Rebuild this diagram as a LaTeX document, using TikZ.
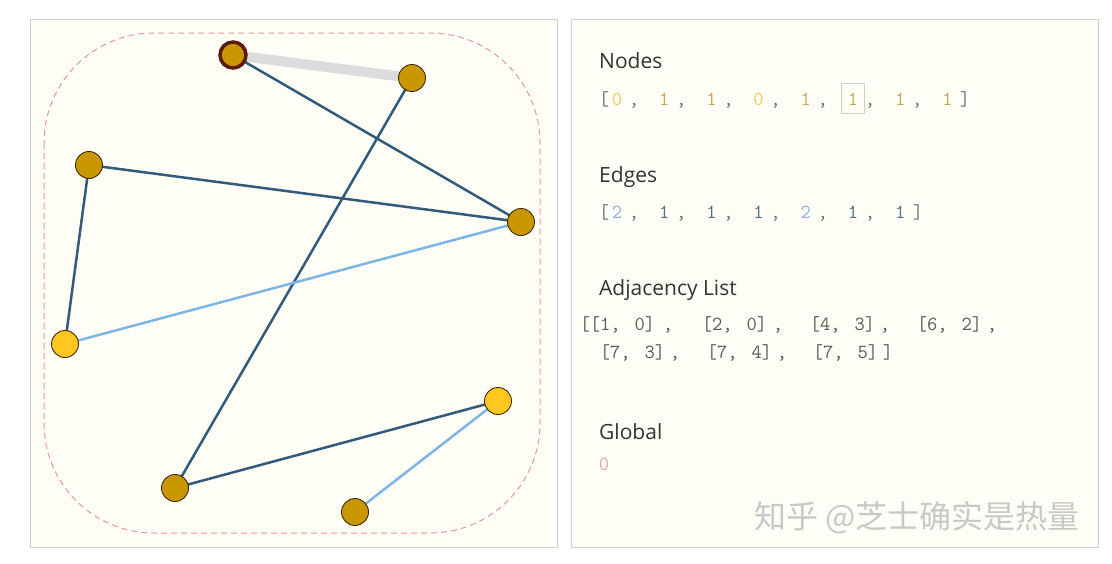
\documentclass[tikz,border=0pt]{standalone}
\usepackage{fontspec}
\setmainfont{Open Sans}
\newfontfamily\cjk{Noto Sans CJK SC}
\usepackage{xcolor}
\definecolor{panelbg}{HTML}{FFFEF6}
\definecolor{frame}{HTML}{CFCFCF}
\definecolor{ring}{HTML}{E8979C}
\definecolor{gold}{HTML}{C99700}
\definecolor{amber}{HTML}{FFC720}
\definecolor{rim}{HTML}{3F2A05}
\definecolor{hot}{HTML}{5A1A0C}
\definecolor{deep}{HTML}{345A7B}
\definecolor{sky}{HTML}{7DB6E5}
\definecolor{hilite}{HTML}{DCDCDC}
\definecolor{ink}{HTML}{333333}
\definecolor{brk}{HTML}{6E6E6E}
\definecolor{vone}{HTML}{C9A64F}
\definecolor{vzero}{HTML}{EDCB5A}
\definecolor{wone}{HTML}{4F6B86}
\definecolor{wtwo}{HTML}{8DB1DC}
\definecolor{adj}{HTML}{5A5A5A}
\definecolor{glob}{HTML}{E3A1A6}
\definecolor{wmark}{HTML}{C8C8C8}
\usetikzlibrary{backgrounds}
\newcommand\adjpair[2]{[#1,\hspace{14pt}#2]}

\begin{document}
\begin{tikzpicture}[x=1pt,y=-1pt,
  pane/.style={draw=frame,fill=panelbg,line width=1pt},
  vert/.style={circle,draw=rim,fill=gold,line width=0.9pt,minimum size=27pt,inner sep=0pt},
  vertlo/.style={vert,fill=amber},
  vertcur/.style={vert,draw=hot,line width=3.5pt,minimum size=26pt},
  hard/.style={deep,line width=2.5pt},
  soft/.style={sky,line width=2.5pt},
  head/.style={anchor=base west,inner sep=0pt,text=ink,font=\fontsize{21}{24}\selectfont},
  cell/.style={anchor=base,inner sep=0pt,font=\ttfamily\fontsize{20}{22}\selectfont}]
  \useasboundingbox (0,0) rectangle (1112,563);

  % graph
  \foreach \n/\p/\s in {0/{498,401}/vertlo, 1/{355,512}/vert, 2/{175,488}/vert, 3/{65,344}/vertlo,
                        4/{89,165}/vert, 5/{233,55}/vertcur, 6/{412,78}/vert, 7/{521,222}/vert}
    \node[\s] (v\n) at (\p) {};

  % state
  \node[head] (tnodes) at (599,68) {Nodes};
  \node[cell,text=brk] (nl) at (604,105) {[};
  \foreach \v/\c [count=\i from 0] in {0/vzero,1/vone,1/vone,0/vzero,1/vone,1/vone,1/vone,1/vone}
    \node[cell,text=\c] (nv\i) at ({617+47.2*\i},105) {\v};
  \foreach \i in {0,...,6}
    \node[cell,text=brk] (nc\i) at ({634+47.2*\i},105) {,};
  \node[cell,text=brk] (nr) at (965,105) {]};
  \node[draw=frame,line width=1.3pt,minimum width=23pt,minimum height=30pt,inner sep=0pt] (cur) at (nv5.center) {};

  \node[head] (tedges) at (599,182) {Edges};
  \node[cell,text=brk] (el) at (604,218) {[};
  \foreach \v/\c [count=\i from 0] in {2/wtwo,1/wone,1/wone,1/wone,2/wtwo,1/wone,1/wone}
    \node[cell,text=\c] (ev\i) at ({617+47.2*\i},218) {\v};
  \foreach \i in {0,...,5}
    \node[cell,text=brk] (ec\i) at ({634+47.2*\i},218) {,};
  \node[cell,text=brk] (er) at (918,218) {]};

  \node[head] (tadj) at (599,295) {Adjacency List};
  \node[cell,text=adj] (al) at (585,330) {[};
  \foreach \a/\b/\x/\y [count=\k] in {1/0/622.5/330, 2/0/734.5/330, 4/3/842.5/330, 6/2/949.5/330,
                                      7/3/632.5/358, 7/4/739.5/358, 7/5/845.5/358}
    \node[cell,text=adj] (ap\k) at (\x,\y) {\adjpair{\a}{\b}};
  \foreach \x/\y [count=\k] in {668/330,778/330,885/330,992/330,675/358,782/358}
    \node[cell,text=adj] (ac\k) at (\x,\y) {,};
  \node[cell,text=adj] (ar) at (888,358) {]};

  \node[head] (tglob) at (599,439) {Global};
  \node[cell,text=glob] (gv) at (604,470) {0};

  \node[anchor=base,inner sep=0pt,text=wmark,font=\cjk\fontsize{32}{36}\selectfont] (wm) at (917,528) {知乎 @芝士确实是热量};

  \begin{scope}[on background layer]
    \fill[white] (0,0) rectangle (1112,563);
    \draw[pane] (30,19) rectangle (557,547);
    \draw[pane] (571,19) rectangle (1098,547);
    \draw[ring,dash pattern=on 6pt off 4pt,line width=1pt,rounded corners=110pt] (44,33) rectangle (540,533);
    \draw[hilite,line width=10pt] (v5.center) -- (v6.center);
    \foreach \a/\b/\s in {v1/v0/soft,v2/v0/hard,v4/v3/hard,v6/v2/hard,v7/v3/soft,v7/v4/hard,v7/v5/hard}
      \draw[\s] (\a.center) -- (\b.center);
  \end{scope}
\end{tikzpicture}
\end{document}
